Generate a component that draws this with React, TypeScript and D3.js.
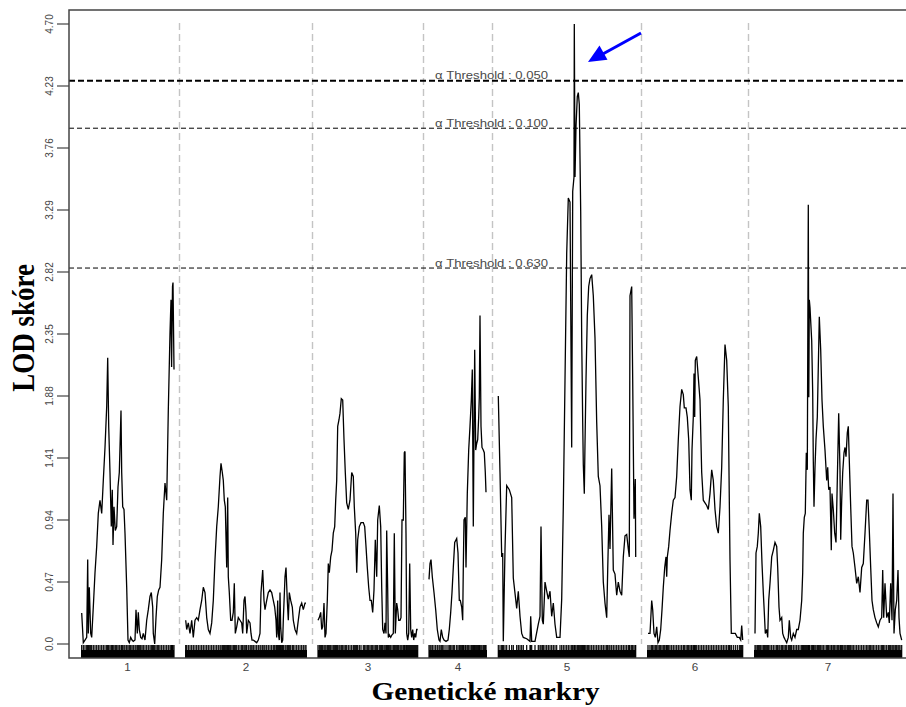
import React from "react";
import * as d3 from "d3";

// ---------- DATA ----------
const chromNames = ["1", "2", "3", "4", "5", "6", "7"];
const chromLengths = [93, 122, 100, 58, 138, 96, 148]; // cM
const chromGap = 11;

const yTickValues = [0, 0.47, 0.94, 1.41, 1.88, 2.35, 2.82, 3.29, 3.76, 4.23, 4.7];
const yTickLabels = ["0.0", "0.47", "0.94", "1.41", "1.88", "2.35", "2.82", "3.29", "3.76", "4.23", "4.70"];

const thresholdAlphas = ["0.050", "0.100", "0.630"];
const thresholdLods = [4.27, 3.91, 2.85];

// LOD profiles: [position cM, LOD]
const lodChr1: [number, number][] = [
  [0.7, 0.235], [2.3, 0.01], [4, 0.03], [5.7, 0.05], [6.7, 0.64], [7.3, 0.08], [8.3, 0.43], [9.7, 0.08],
  [10.7, 0.05], [12.3, 0.28], [14, 0.54], [15.7, 0.74], [17.3, 0.99], [19, 1.09], [20.7, 0.99], [22.3, 1.24],
  [24, 1.49], [25.7, 1.8], [26.7, 2.17], [27.7, 1.65], [29, 1.3], [30.3, 0.89], [31.3, 1.17], [32, 0.75],
  [33, 1.04], [34.3, 0.86], [35.7, 0.89], [37, 1.19], [38.3, 1.3], [40, 1.77], [40.7, 1.3], [41.7, 1.04],
  [43, 1.02], [44, 0.84], [45.7, 0.43], [47, 0.03], [48.3, 0.01], [49.7, 0.05], [51, 0.03], [52.3, 0.02],
  [54, 0.03], [55, 0.26], [56.3, 0.08], [57.3, 0.24], [58.3, 0.11], [59.7, 0.05], [61, 0.04], [62.3, 0.08],
  [64, 0.03], [65.7, 0.18], [67.3, 0.26], [69, 0.36], [70.3, 0.39], [71.7, 0.28], [72.3, 0.08], [73.7, 0.0],
  [75, 0.2], [76.3, 0.36], [77.7, 0.41], [79, 0.43], [80.7, 0.64], [82.3, 0.99], [84, 1.22], [85.7, 1.09],
  [87.3, 1.77], [89, 2.36], [90, 2.61], [90.6, 2.1], [91.5, 2.71], [92, 2.74], [93, 2.08],
];

const lodChr2: [number, number][] = [
  [0.7, 0.18], [1.7, 0.11], [3.3, 0.16], [5, 0.08], [6.7, 0.18], [8.3, 0.05], [10, 0.18], [11.7, 0.2],
  [13.3, 0.18], [15, 0.26], [16.7, 0.33], [18.3, 0.43], [20, 0.39], [21.7, 0.2], [23.3, 0.11], [25, 0.08],
  [26.7, 0.16], [28.3, 0.33], [30, 0.64], [31.7, 0.89], [33.3, 1.04], [35, 1.27], [36, 1.37], [37.3, 1.3],
  [38.3, 1.24], [39.3, 1.09], [40.3, 1.04], [41.7, 0.58], [42.7, 1.11], [43.3, 0.51], [44.3, 0.39], [45.7, 0.18],
  [47, 0.18], [48.3, 0.24], [49.3, 0.46], [50.3, 0.08], [51.7, 0.13], [53.3, 0.2], [55, 0.18], [56.7, 0.16],
  [57.7, 0.08], [59, 0.33], [60, 0.36], [61, 0.24], [61.7, 0.08], [63.3, 0.18], [65, 0.16], [66, 0.08],
  [67, 0.03], [68.3, 0.03], [70, 0.02], [71.7, 0.01], [73.3, 0.03], [75, 0.08], [76, 0.39], [77.7, 0.56],
  [79, 0.33], [80, 0.26], [81.7, 0.33], [83.3, 0.39], [85, 0.41], [86.7, 0.39], [88.3, 0.33], [89.7, 0.28],
  [91, 0.18], [91.7, 0.05], [92.7, 0.33], [93.3, 0.08], [94.3, 0.03], [95, 0.39], [95.7, 0.13], [96.7, 0.01],
  [97.7, 0.03], [98.3, 0.18], [100, 0.51], [101, 0.58], [102.3, 0.33], [103.3, 0.18], [104.3, 0.39], [105.7, 0.33],
  [107.3, 0.28], [108.3, 0.18], [110, 0.11], [111.7, 0.08], [113.3, 0.18], [115, 0.28], [116.7, 0.31], [118.3, 0.26],
  [120, 0.31], [121, 0.31],
];

const lodChr3: [number, number][] = [
  [0, 0.18], [1.3, 0.2], [2.7, 0.24], [3.7, 0.11], [4.7, 0.13], [6, 0.31], [7, 0.05], [8, 0.08],
  [9.3, 0.33], [10.3, 0.61], [11.3, 0.54], [12.7, 0.66], [14, 0.71], [15.3, 0.84], [16.7, 0.89], [17.7, 1.09],
  [18.7, 1.24], [19.7, 1.65], [21, 1.7], [22, 1.75], [23.3, 1.86], [24.7, 1.85], [26, 1.55], [27.3, 1.3],
  [28.7, 1.07], [30.3, 1.02], [32, 1.09], [33.7, 1.3], [35.3, 1.27], [36.3, 1.04], [37.7, 0.84], [38.7, 0.54],
  [39.7, 0.79], [41.3, 0.89], [43, 0.92], [45.3, 0.92], [46.7, 0.89], [48, 0.74], [49.3, 0.58], [50.7, 0.43],
  [52, 0.33], [53.3, 0.33], [54.7, 0.24], [56, 0.41], [57.3, 0.79], [58.7, 0.51], [59.7, 0.94], [61.3, 1.05],
  [62.7, 0.89], [63.7, 0.43], [64.7, 0.11], [66, 0.08], [67, 0.16], [68, 0.08], [68.7, 0.86], [69.7, 0.41],
  [70.3, 0.05], [71.3, 0.07], [72.7, 0.05], [74, 0.07], [75.3, 0.08], [76.3, 0.84], [77.3, 0.08], [78.7, 0.31],
  [79.7, 0.26], [80.7, 0.18], [82, 0.18], [83, 0.2], [84, 0.94], [85.3, 0.94], [86.3, 1.45], [87, 1.46],
  [88, 0.84], [88.7, 0.08], [89.7, 0.03], [90.7, 0.08], [91.7, 0.61], [92.7, 0.11], [93.7, 0.05], [94.7, 0.11],
  [95.7, 0.03], [96.7, 0.08], [97.7, 0.05], [98.7, 0.11], [99.7, 0.11],
];

const lodChr4: [number, number][] = [
  [0, 0.49], [1, 0.61], [2, 0.64], [3.3, 0.51], [5, 0.39], [6.7, 0.26], [8.3, 0.11], [10, 0.03],
  [11, 0.02], [12.3, 0.11], [13.7, 0.05], [15, 0.03], [17, 0.02], [19, 0.03], [20.3, 0.11], [21.7, 0.24],
  [23, 0.39], [24.3, 0.58], [25.7, 0.77], [27.7, 0.8], [29, 0.69], [30.3, 0.33], [31.3, 0.33], [32.7, 0.28],
  [33.7, 0.18], [34.3, 0.58], [35, 0.94], [36.3, 0.96], [37, 0.58], [38.3, 1.14], [39.7, 1.47], [41, 1.65],
  [42.3, 1.85], [43.3, 2.08], [44.3, 0.89], [45, 1.6], [45.7, 2.23], [46.7, 1.47], [47.7, 1.52], [48.7, 1.55],
  [49.7, 1.72], [50.3, 1.87], [51, 2.49], [52, 1.65], [53, 1.49], [54.3, 1.47], [55.3, 1.45], [56.3, 1.3],
  [57, 1.15],
];

const lodChr5: [number, number][] = [
  [0.3, 1.88], [2, 1.3], [3.7, 0.66], [4.7, 0.69], [5.3, 0.02], [7, 0.72], [8.7, 1.2], [11.3, 1.17],
  [13.7, 1.11], [15.3, 0.5], [18.7, 0.27], [20.3, 0.4], [22, 0.21], [23.7, 0.08], [25.3, 0.05], [28.7, 0.04],
  [32, 0.02], [32.7, 0.21], [33.7, 0.02], [37, 0.02], [40.3, 0.15], [42, 0.21], [43, 0.89], [44.3, 0.18],
  [45.3, 0.15], [47, 0.47], [48.7, 0.4], [50.3, 0.34], [52, 0.4], [53.7, 0.21], [55.3, 0.31], [57, 0.15],
  [58.7, 0.05], [62, 0.05], [63.7, 0.34], [65.3, 1.04], [67, 2.0], [68.7, 2.96], [70.3, 3.38], [72, 3.35],
  [73.7, 1.49], [74.7, 3.43], [76, 3.54], [76.3, 4.7], [77, 3.54], [78, 3.92], [79.3, 4.15], [80.3, 4.18],
  [81.3, 4.09], [82.7, 3.28], [83.7, 2.32], [84.7, 1.68], [85.3, 1.36], [86.3, 1.14], [87, 1.52], [88, 2.0],
  [89.3, 2.49], [90.7, 2.71], [92, 2.77], [93.7, 2.8], [95.3, 2.64], [97, 2.32], [98.7, 1.68], [100.3, 1.27],
  [102, 1.2], [103.7, 0.89], [105.3, 0.47], [107, 0.31], [108.7, 0.2], [109.7, 0.56], [111, 0.98], [112, 0.72],
  [113.7, 1.33], [115.3, 0.56], [117, 0.53], [118.7, 0.37], [120.3, 0.47], [122, 0.4], [123.7, 0.37], [125.3, 0.66],
  [127, 0.82], [128.7, 0.83], [130.3, 0.72], [131.3, 0.66], [132, 2.64], [133.7, 2.71], [134.7, 2.0], [136, 0.95],
  [137.3, 1.25], [137.7, 0.66],
];

const lodChr6: [number, number][] = [
  [1, 0.08], [3, 0.08], [4.7, 0.33], [5.7, 0.26], [7, 0.08], [8.3, 0.05], [9.7, 0.13], [11, 0.01],
  [12.3, 0.03], [13.7, 0.11], [15, 0.26], [16.3, 0.43], [17.7, 0.58], [19, 0.66], [19.7, 0.51], [20.3, 0.66],
  [21.7, 0.74], [23, 0.86], [24.7, 0.99], [26.3, 1.09], [28, 1.11], [29.7, 1.27], [31.3, 1.55], [33, 1.8],
  [34.7, 1.93], [36.3, 1.89], [37.3, 1.79], [39, 1.79], [40.3, 1.72], [41.7, 1.55], [43, 1.17], [44.3, 1.09],
  [45, 1.47], [46.3, 1.72], [47, 2.05], [47.7, 1.72], [48.3, 2.15], [49.7, 2.18], [51.3, 2.02], [53, 1.85],
  [54.7, 1.3], [56.3, 1.09], [58, 1.07], [59.7, 1.05], [61.3, 1.02], [63, 1.14], [64.7, 1.32], [66.3, 1.24],
  [68, 1.02], [69.7, 0.89], [71.3, 0.84], [73, 1.04], [74.7, 1.34], [76.3, 1.85], [78, 2.27], [79.7, 2.15],
  [81.3, 1.8], [82.3, 1.09], [83, 0.64], [84.3, 0.08], [86.3, 0.08], [88.3, 0.08], [90.3, 0.05], [92.3, 0.05],
  [93.7, 0.03], [94.7, 0.14], [95.7, 0.03],
];

const lodChr7: [number, number][] = [
  [1, 0.08], [2, 0.69], [3.3, 0.74], [4.3, 0.84], [5.3, 0.99], [6.7, 0.89], [8, 0.61], [9.3, 0.39],
  [10.3, 0.24], [11.3, 0.08], [12.7, 0.11], [13.7, 0.05], [14.7, 0.33], [16, 0.46], [17.7, 0.66], [19.3, 0.71],
  [21, 0.77], [22.7, 0.74], [23.7, 0.58], [25, 0.28], [26, 0.18], [27.7, 0.2], [28.7, 0.08], [30, 0.05],
  [31.3, 0.03], [32.7, 0.01], [34.3, 0.05], [35.3, 0.18], [36.7, 0.05], [37.7, 0.03], [39.3, 0.08], [41, 0.05],
  [42.7, 0.11], [44.3, 0.11], [46, 0.18], [47.7, 0.33], [48.7, 0.54], [49.3, 0.84], [50.3, 0.96], [51.3, 0.99],
  [52.3, 1.45], [53.3, 1.32], [54.3, 3.33], [54.8, 1.87], [55.3, 2.61], [56, 2.55], [57.7, 2.3], [58.7, 1.9],
  [59.3, 1.39], [60, 1.04], [61, 1.34], [62, 1.55], [63.3, 1.72], [64.3, 2.1], [65.3, 2.48], [66.7, 2.23],
  [68, 1.85], [69.3, 1.65], [71, 1.47], [72.7, 1.24], [73.7, 1.34], [74.7, 1.17], [76, 1.19], [77.3, 0.71],
  [78, 1.14], [79.3, 1.02], [80.7, 0.84], [82, 0.77], [83.3, 1.24], [84.7, 1.75], [86, 1.32], [86.7, 0.79],
  [87.7, 1.09], [88.7, 1.3], [90, 1.45], [91, 1.49], [92, 1.42], [93.3, 1.6], [94.3, 1.65], [95.3, 1.39],
  [96.7, 1.04], [98, 0.74], [99.3, 0.69], [101, 0.58], [102.7, 0.46], [104.3, 0.51], [106, 0.39], [107.7, 0.58],
  [109.3, 0.61], [111, 0.84], [112.7, 1.09], [114, 1.09], [115.3, 0.86], [116.7, 0.58], [118, 0.33], [119.3, 0.26],
  [121, 0.2], [122.7, 0.16], [124.3, 0.13], [126, 0.18], [127.7, 0.2], [128.7, 0.56], [129.7, 0.2], [131, 0.46],
  [132.7, 0.2], [134.3, 0.24], [135.3, 0.16], [136.7, 0.46], [138, 0.18], [139, 1.14], [140, 0.08], [141.3, 0.26],
  [142.7, 0.33], [144, 0.56], [145, 0.2], [146, 0.08], [147.7, 0.03],
];

const lodProfiles = [lodChr1, lodChr2, lodChr3, lodChr4, lodChr5, lodChr6, lodChr7];

// ---------- LAYOUT ----------
const W = 906;
const H = 707;
const frameLeft = 69;
const frameTop = 10;
const frameBottom = 658;
const frameRight = 906;
const stretch = 1.17; // horizontal stretch of the original rendering

export default function App() {
  const offsets: number[] = [];
  let acc = 0;
  chromLengths.forEach((len) => {
    offsets.push(acc);
    acc += len + chromGap;
  });
  const totalLen = acc - chromGap;

  const x = d3.scaleLinear().domain([0, totalLen]).range([81, 902]);
  const y = d3.scaleLinear().domain([0, 4.7]).range([644, 24]);

  const separators = offsets.slice(1).map((o) => x(o - chromGap / 2));

  const line = d3
    .line<[number, number]>()
    .x((d) => d[0])
    .y((d) => y(d[1]));

  const rugTop = 645;
  const rugBandTop = 650;

  return (
    <svg
      width={W}
      height={H}
      style={{ position: "absolute", left: 0, top: 0, background: "#fff" }}
      fontFamily="'Liberation Sans', Arial, sans-serif"
    >
      <rect x={0} y={0} width={W} height={H} fill="#fff" />

      {/* chromosome separators */}
      {separators.map((sx, i) => (
        <line
          key={"sep" + i}
          x1={sx}
          x2={sx}
          y1={y(4.7) - 1}
          y2={y(0)}
          stroke="#c4c4c4"
          strokeWidth={1.4}
          strokeDasharray="7,4"
        />
      ))}

      {/* threshold lines */}
      {thresholdLods.map((v, i) => (
        <g key={"th" + i}>
          <line
            x1={frameLeft}
            x2={frameRight}
            y1={y(v)}
            y2={y(v)}
            stroke="#000"
            strokeWidth={i === 0 ? 2 : 1}
            strokeDasharray={i === 0 ? "6,3" : "5,3"}
          />
          <text
            x={435}
            y={y(v) - 1.5}
            fontSize={11.5}
            fill="#4a4a4a"
            textLength={113}
            lengthAdjust="spacingAndGlyphs"
          >
            {"α Threshold : " + thresholdAlphas[i]}
          </text>
        </g>
      ))}

      {/* LOD curves */}
      {lodProfiles.map((prof, ci) => {
        const pts = prof.map((d) => [x(offsets[ci] + d[0]), d[1]] as [number, number]);
        return (
          <path
            key={"lod" + ci}
            d={line(pts) || ""}
            fill="none"
            stroke="#000"
            strokeWidth={1.3}
            strokeLinejoin="miter"
          />
        );
      })}

      {/* rug of markers */}
      {lodProfiles.map((prof, ci) => (
        <g key={"rug" + ci}>
          <rect
            x={x(offsets[ci])}
            y={rugBandTop}
            width={x(offsets[ci] + chromLengths[ci]) - x(offsets[ci])}
            height={frameBottom - rugBandTop}
            fill="#000"
          />
          {prof.map((d, j) => (
            <line
              key={j}
              x1={x(offsets[ci] + d[0])}
              x2={x(offsets[ci] + d[0])}
              y1={rugTop}
              y2={frameBottom}
              stroke="#000"
              strokeWidth={1.2}
            />
          ))}
        </g>
      ))}

      {/* frame */}
      <path
        d={`M${frameRight},${frameTop} L${frameLeft},${frameTop} L${frameLeft},${frameBottom} L${frameRight},${frameBottom}`}
        fill="none"
        stroke="#444"
        strokeWidth={1.5}
      />

      {/* y axis ticks */}
      {yTickValues.map((v, i) => (
        <g key={"yt" + i}>
          <line x1={frameLeft - 12} x2={frameLeft} y1={y(v)} y2={y(v)} stroke="#444" strokeWidth={1.2} />
          <g transform={`translate(53, ${y(v)}) scale(${stretch},1) rotate(-90)`}>
            <text x={0} y={0} fontSize={10} fill="#444" textAnchor="middle">
              {yTickLabels[i]}
            </text>
          </g>
        </g>
      ))}

      {/* chromosome labels */}
      {chromNames.map((n, i) => (
        <g key={"cl" + i} transform={`translate(${x(offsets[i] + chromLengths[i] / 2)}, 671) scale(${stretch},1)`}>
          <text x={0} y={0} fontSize={10} fill="#444" textAnchor="middle">
            {n}
          </text>
        </g>
      ))}

      {/* axis titles */}
      <g transform={`translate(485.5, 700) scale(${stretch},1)`}>
        <text
          x={0}
          y={0}
          textAnchor="middle"
          fontFamily="'Liberation Serif', 'Times New Roman', serif"
          fontWeight="bold"
          fontSize={25}
          fill="#000"
        >
          Genetické markry
        </text>
      </g>
      <g transform={`translate(34, 328) scale(${stretch},1) rotate(-90)`}>
        <text
          x={0}
          y={0}
          textAnchor="middle"
          fontFamily="'Liberation Serif', 'Times New Roman', serif"
          fontWeight="bold"
          fontSize={27}
          fill="#000"
        >
          LOD skóre
        </text>
      </g>

      {/* annotation arrow */}
      <line x1={641} y1={33} x2={601} y2={55} stroke="#0000ff" strokeWidth={3} />
      <polygon points="588,62 607.5,59.8 599.5,45.5" fill="#0000ff" />
    </svg>
  );
}
